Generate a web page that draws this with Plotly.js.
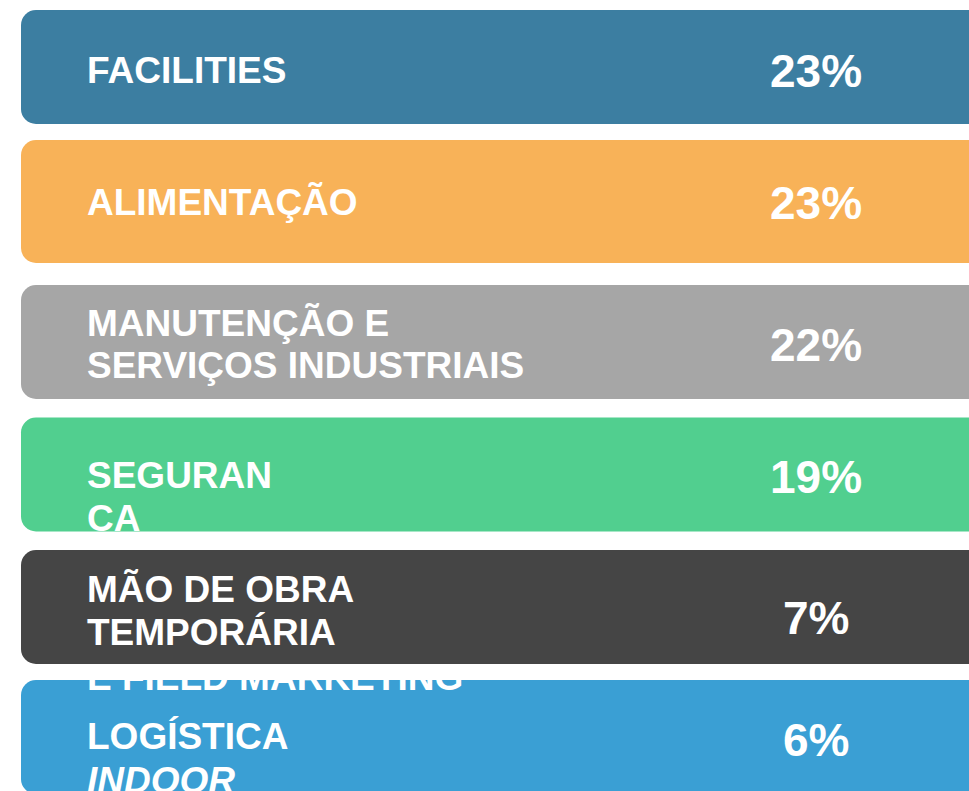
<!DOCTYPE html>
<html>
<head>
<meta charset="utf-8">
<script src="https://cdn.plot.ly/plotly-3.0.1.min.js"></script>
<style>html,body{margin:0;padding:0;background:#fff;}#chart{width:969px;height:791px;}</style>
</head>
<body>
<div id="chart"></div>
<script>
// ---- data ----
const categories = [
  'FACILITIES',
  'ALIMENTAÇÃO',
  'MANUTENÇÃO E<br>SERVIÇOS INDUSTRIAIS',
  'SEGURAN<br>CA',
  'MÃO DE OBRA<br>TEMPORÁRIA<br>E FIELD MARKETING',
  'LOGÍSTICA<br><i>INDOOR</i>'
];
const shares = [23, 23, 22, 19, 7, 6];
const shareLabels = shares.map(v => v + '%');
const barColors = ['#3C7EA1', '#F8B258', '#A6A6A6', '#51CF8F', '#454545', '#3A9FD4'];

// ---- layout constants (pixels) ----
const W = 969, H = 791;
const pitch = 134;              // px per category step
const barHeightPx = [114, 123, 114, 114, 114, 114];
const barShiftPx = [0, 0.5, 7, 5.5, 4, 0];
const lineShiftPx = [[3], [1], [-12.5, 30.5], [6, 49], [-14, 29, 74], [-1, 43]];
const pctShiftPx = [4, 1.5, 10, 8, 14.5, 3];

const idx = categories.map((_, i) => i);
const widths = barHeightPx.map(h => h / pitch);
const offsets = barHeightPx.map((h, i) => (-h / 2 + barShiftPx[i]) / pitch);

const trace = {
  type: 'bar',
  orientation: 'h',
  y: idx,
  x: categories.map(() => 1),
  width: widths,
  offset: offsets,
  marker: { color: barColors, cornerradius: 15, line: { width: 0 } },
  hoverinfo: 'skip',
  showlegend: false
};

const font = { family: 'Liberation Sans, Arial, sans-serif', size: 37, color: '#FFFFFF', weight: 'bold' };
const annotations = [];
categories.forEach((label, i) => {
  label.split('<br>').forEach((line, j) => {
    annotations.push({
      xref: 'paper', yref: 'y', x: 85 / W, y: i,
      xanchor: 'left', yanchor: 'middle',
      yshift: -lineShiftPx[i][j],
      text: line, showarrow: false, font: font
    });
  });
  annotations.push({
    xref: 'paper', yref: 'y', x: 816 / W, y: i,
    xanchor: 'center', yanchor: 'middle',
    yshift: -pctShiftPx[i],
    text: shareLabels[i], showarrow: false,
    font: Object.assign({}, font, { size: 46 })
  });
});

const layout = {
  width: W, height: H,
  margin: { l: 0, r: 0, t: 0, b: 0, pad: 0 },
  paper_bgcolor: '#FFFFFF', plot_bgcolor: '#FFFFFF',
  xaxis: { range: [1 + 21 / 969, 21 / 969], visible: false, fixedrange: true },
  yaxis: { range: [H / pitch - 0.5, -0.5], visible: false, fixedrange: true },
  annotations: annotations,
  showlegend: false
};

Plotly.newPlot('chart', [trace], layout, { staticPlot: true, displayModeBar: false });
</script>
</body>
</html>
